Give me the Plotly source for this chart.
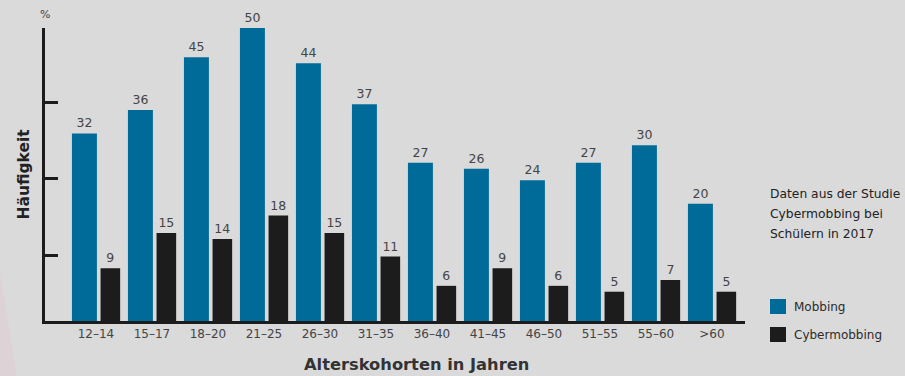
import plotly.graph_objects as go

categories = ["12–14", "15–17", "18–20", "21–25", "26–30", "31–35",
              "36–40", "41–45", "46–50", "51–55", "55–60", ">60"]
mobbing = [32, 36, 45, 50, 44, 37, 27, 26, 24, 27, 30, 20]
cybermobbing = [9, 15, 14, 18, 15, 11, 6, 9, 6, 5, 7, 5]
series_names = ["Mobbing", "Cybermobbing"]
note_lines = ["Daten aus der Studie", "Cybermobbing bei", "Schülern in 2017"]
y_tickvals = [11.2, 24.4, 37.3, 50]

BG = "#dadada"
BLUE = "#006b99"
BLACK = "#1c1c1c"
FONT = "'DejaVu Sans', sans-serif"

fig = go.Figure()
fig.add_trace(go.Bar(
    x=categories, y=mobbing, name=series_names[0],
    marker=dict(color=BLUE, line=dict(width=0)),
    width=0.446, offset=-0.429,
    text=[str(v) for v in mobbing], textposition="outside",
    textfont=dict(color="#444444", size=12.5, family=FONT),
    cliponaxis=False, showlegend=False,
))
fig.add_trace(go.Bar(
    x=categories, y=cybermobbing, name=series_names[1],
    marker=dict(color=BLACK, line=dict(width=0)),
    width=0.35, offset=0.082,
    text=[str(v) for v in cybermobbing], textposition="outside",
    textfont=dict(color="#444444", size=12.5, family=FONT),
    cliponaxis=False, showlegend=False,
))

L, R, T, B = 45, 160, 28, 55
PW, PH = 905 - L - R, 376 - T - B


def px_x(p):
    return (p - L) / PW


def px_y(p):
    return (376 - B - p) / PH


annotations = [
    dict(text="%", xref="paper", yref="paper", x=0, y=1, yshift=14,
         showarrow=False, xanchor="center", yanchor="middle",
         font=dict(size=11, color="#444444", family=FONT)),
    dict(text="<b>Häufigkeit</b>", xref="paper", yref="paper",
         x=px_x(23), y=0.5, xanchor="center", yanchor="middle",
         textangle=-90, showarrow=False,
         font=dict(size=15.5, color="#222222", family=FONT)),
    dict(text="<b>Alterskohorten in Jahren</b>", xref="paper", yref="paper",
         x=px_x(416), y=px_y(364), xanchor="center", yanchor="middle",
         showarrow=False,
         font=dict(size=16.3, color="#333333", family=FONT)),
]
for i, line in enumerate(note_lines):
    annotations.append(dict(
        text=line, xref="paper", yref="paper", x=px_x(768), y=px_y(194 + 20 * i),
        xanchor="left", yanchor="middle", showarrow=False,
        font=dict(size=12.3, color="#222222", family=FONT)))

# faint decorative wedge at bottom-left
shapes = [dict(type="path", xref="paper", yref="paper", layer="below",
               path=f"M {px_x(0)},{px_y(272)} L {px_x(17)},{px_y(376)} L {px_x(0)},{px_y(376)} Z",
               fillcolor="#ddd3d7", line=dict(width=0))]
legend_colors = [BLUE, BLACK]
for i, (name, col) in enumerate(zip(series_names, legend_colors)):
    cy = 307 + 28 * i
    shapes.append(dict(type="rect", xref="paper", yref="paper",
                       x0=px_x(770), x1=px_x(786), y0=px_y(cy - 8), y1=px_y(cy + 7),
                       fillcolor=col, line=dict(width=0)))
    annotations.append(dict(
        text=name, xref="paper", yref="paper", x=px_x(792), y=px_y(cy),
        xanchor="left", yanchor="middle", showarrow=False,
        font=dict(size=12, color="#2a2a2a", family=FONT)))

fig.update_layout(
    width=905, height=376,
    margin=dict(l=L, r=R, t=T, b=B),
    paper_bgcolor=BG, plot_bgcolor=BG,
    barmode="overlay",
    font=dict(family=FONT, color="#333333", size=12),
    showlegend=False,
    xaxis=dict(
        type="category", range=[-0.91, 11.59],
        showline=True, linecolor=BLACK, linewidth=3,
        ticks="", showgrid=False, zeroline=False,
        tickfont=dict(size=12, color="#444444", family=FONT),
    ),
    yaxis=dict(
        range=[0, 50], showline=True, linecolor=BLACK, linewidth=3,
        ticks="inside", ticklen=13, tickwidth=3, tickcolor=BLACK,
        tickvals=y_tickvals, showticklabels=False,
        showgrid=False, zeroline=False,
    ),
    annotations=annotations,
    shapes=shapes,
)

fig.write_html("out.html")
